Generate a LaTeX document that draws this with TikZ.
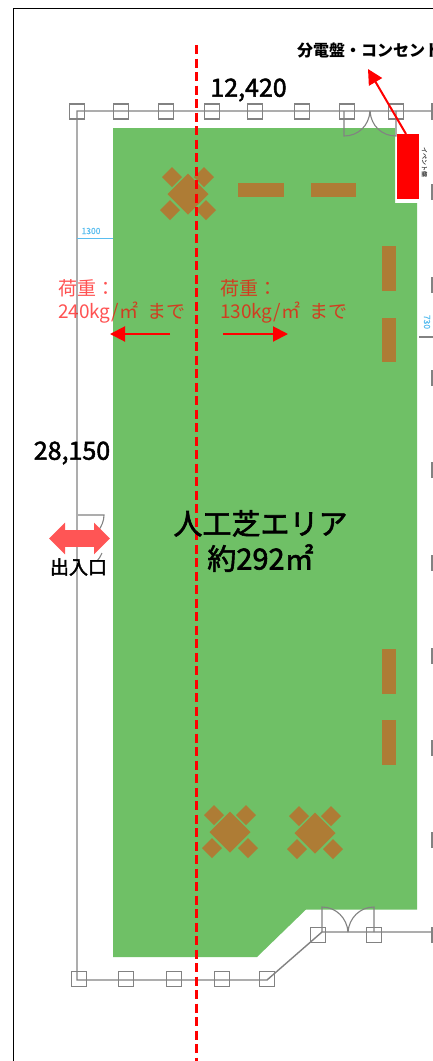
\documentclass[tikz,border=0pt]{standalone}
\usepackage{fontspec}
\setmainfont{Noto Sans CJK JP}
\newfontfamily\semibold[FakeBold=2]{Noto Sans CJK JP}
\newfontfamily\lightbold[FakeBold=0.6]{Noto Sans CJK JP}
\usetikzlibrary{arrows.meta}
\definecolor{turf}{RGB}{111,192,102}
\definecolor{wood}{RGB}{174,124,53}
\definecolor{wallgray}{RGB}{130,130,130}
\definecolor{dimblue}{RGB}{90,190,240}
\definecolor{coral}{RGB}{255,85,85}
\tikzset{
  wall/.style={draw=wallgray,line width=1.4pt},
  door/.style={draw=wallgray,line width=1.1pt},
  column/.style={draw=wallgray,line width=1.5pt,fill=none},
  label/.style={inner sep=0pt,outer sep=0pt,text=black,font=\semibold\fontsize{25}{28}\selectfont},
  loadtext/.style={inner sep=0pt,outer sep=0pt,anchor=north west,align=left,text=red,text opacity=.68,font=\fontsize{19}{23}\selectfont},
  redarrow/.style={draw=red,line width=2pt,-{Triangle[length=15pt,width=15pt]}},
  dimtext/.style={inner sep=0pt,outer sep=0pt,text=dimblue,font=\lightbold\fontsize{8.5}{9}\selectfont}
}
\newcommand{\colsq}[2]{\draw[column] (#1-7.5,#2-7.5) rectangle (#1+7.5,#2+7.5);}
\newcommand{\tableset}[3]{%
  \fill[wood] (#1-#3,#2)--(#1,#2-#3)--(#1+#3,#2)--(#1,#2+#3)--cycle;
  \foreach \dx/\dy in {-16/-17,16/-17,-18/16,18/16}{
    \fill[wood] (#1+\dx-10,#2+\dy)--(#1+\dx,#2+\dy-10)--(#1+\dx+10,#2+\dy)--(#1+\dx,#2+\dy+10)--cycle;
  }}
\begin{document}
\begin{tikzpicture}[x=1pt,y=-1pt]
\clip (0,0) rectangle (433,1061);
\fill[white] (0,0) rectangle (433,1061);
% outer frame
\draw[black,line width=1.8pt] (13.5,1061) -- (13.5,8.5) -- (433,8.5);
% turf
\fill[turf] (113,128) -- (395,128) -- (395,203) -- (417,203) -- (417,909.5) -- (306,909.5) -- (257,957) -- (113,957) -- cycle;
% walls
\draw[wall] (433,111) -- (77,111) -- (77,980) -- (267,980) -- (322,932) -- (433,932);
\draw[wall] (419,337) -- (433,337);
\foreach \x in {77,121,166,212,255,302,347,396,439.5}{\colsq{\x}{111.5}}
\foreach \x in {79,126,174,222,267}{\colsq{\x}{979}}
\colsq{318}{935}\colsq{374}{935}
\foreach \y in {192,285,378,470,563,656,748,840,935}{\colsq{439.5}{\y}}
% doors
\draw[door] (344,111) -- (344,136) .. controls (358,136) and (369,126) .. (370,111);
\draw[door] (396,111) -- (396,136) .. controls (382,136) and (371,126) .. (370,111);
\draw[door] (322,932) -- (322,907) .. controls (336,907) and (347,918) .. (348,932);
\draw[door] (374,932) -- (374,907) .. controls (360,907) and (349,918) .. (348,932);
\draw[door] (78,515) -- (104,515) .. controls (104,526) and (95,540) .. (78,541);
\draw[door] (102,553) .. controls (100,557) and (99,559) .. (97,561);
% furniture
\tableset{188}{194}{20.5}
\tableset{230}{832}{20.5}
\tableset{315}{833}{20.5}
\fill[wood] (238,183) rectangle (284,197);
\fill[wood] (311,183) rectangle (356,197);
\fill[wood] (381.5,246) rectangle (396,291);
\fill[wood] (381.5,318) rectangle (396,362);
\fill[wood] (381.5,649) rectangle (396,694);
\fill[wood] (381.5,720) rectangle (396,765);
% dimensions
\draw[dimblue,line width=1.3pt] (77,238.5) -- (113,238.5);
\node[dimtext] (dimA) at (91,231) {1300};
\node[dimtext,rotate=-90] (dimB) at (427,322) {730};
% boundary line
\coordinate (lineTop) at (196.5,45);
\coordinate (lineBottom) at (196.5,1061);
\draw[red,line width=3pt,dash pattern=on 9pt off 4.5pt] (lineTop) -- (lineBottom);
% panel
\node[fill=red,minimum width=22pt,minimum height=65pt,inner sep=0pt,outer sep=0pt] (panel) at (408,166.5) {};
\node[inner sep=0pt,rotate=-90,text=black!65,font=\lightbold\fontsize{6}{7}\selectfont] (panelname) at (424.5,162) {イベント盤};
% texts
\node[inner sep=0pt,anchor=west,font=\bfseries\fontsize{16}{18}\selectfont,text=black] (panellabel) at (297,50) {分電盤・コンセント};
\coordinate (panelTip) at (368,69);
\draw[redarrow] (406,134) -- (panelTip);
\node[label] (width) at (248.5,90) {12,420};
\node[label] (depth) at (72,453) {28,150};
\node[loadtext] (loadL) at (58,280) {荷重：\\240kg/㎡\hspace{5pt} まで};
\node[loadtext] (loadR) at (220,280) {荷重：\\130kg/㎡\hspace{5pt} まで};
\coordinate (arrowLs) at (170,334); \coordinate (arrowLe) at (110,334);
\coordinate (arrowRs) at (223,334); \coordinate (arrowRe) at (288,334);
\draw[redarrow] (arrowLs) -- (arrowLe);
\draw[redarrow] (arrowRs) -- (arrowRe);
\coordinate (doorL) at (49,538.5); \coordinate (doorR) at (110,538.5);
\draw[draw=coral,line width=17pt,{Triangle[length=16pt,width=31pt]}-{Triangle[length=16pt,width=31pt]}] (doorL) -- (doorR);
\node[inner sep=0pt,font=\semibold\fontsize{19}{20}\selectfont,text=black] (entry) at (78.5,567) {出入口};
\node[inner sep=0pt,align=center,font=\semibold\fontsize{29}{35}\selectfont,text=black] (area) at (260.5,541) {人工芝エリア\\約292㎡};
\end{tikzpicture}
\end{document}
